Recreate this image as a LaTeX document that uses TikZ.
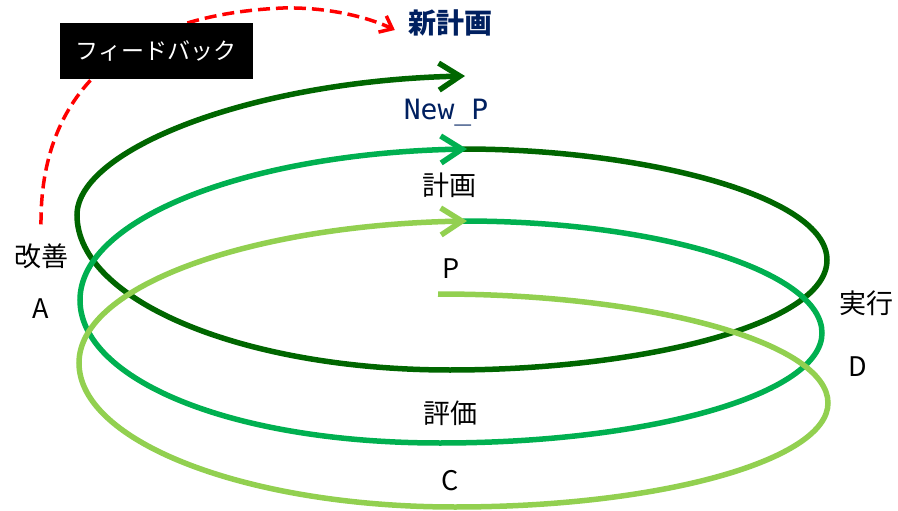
\documentclass[tikz,border=0pt]{standalone}
\usepackage{fontspec}
\setmainfont{Noto Sans CJK JP}
\newfontfamily\pmono{DejaVu Sans Mono}
\usepackage{xcolor}
\usepackage{tikz}
\usetikzlibrary{arrows.meta,calc}

\definecolor{spiraldark}{RGB}{0,102,0}
\definecolor{spiralmid}{RGB}{0,176,80}
\definecolor{spirallight}{RGB}{146,208,80}
\definecolor{plannavy}{RGB}{0,32,96}

\begin{document}
\begin{tikzpicture}[
					x = 1pt, y = -1pt,
					spiral/.style = {line width = 5.5pt, -{Straight Barb[length=21pt,width=27pt]}},
					stage/.style = {inner sep = 2pt, text height = 20pt, text depth = 3pt, font = \fontsize{27}{30}\selectfont},
					fbbox/.style = {fill = black, text = white, minimum width = 193pt, minimum height = 56pt, inner sep = 0pt, font = \fontsize{23}{26}\selectfont},
					feedback/.style = {red, line width = 3.5pt, dash pattern = on 12pt off 6pt, -{Straight Barb[length=11pt,width=18pt]}}
					]

					\useasboundingbox (0,0) rectangle (898,511);

					\node[stage] (kaizen) at (41,258) {改善};
					\node[stage] (act) at (41,310) {A};
					\node[stage] (jikko) at (866,305) {実行};
					\node[stage] (do) at (858,368) {D};
					\node[stage] (hyoka) at (450,415) {評価};
					\node[stage] (check) at (450,482) {C};
					\node[stage] (keikaku) at (449,187) {計画};
					\node[stage] (plan) at (451,270) {P};
					\node[stage, plannavy, font = \pmono\fontsize{28}{30}\selectfont] (newp) at (446,111) {New\_P};
					\node[stage, plannavy, font = \bfseries\fontsize{28}{30}\selectfont] (newplan) at (450,25) {新計画};

					% top loop first, so the lower arrows lie over the next start
					\draw[spiral, spiraldark] (463,149) .. controls (640,149) and (827,195) .. (827,260)
						.. controls (827,325) and (640,370) .. (450,370)
						.. controls (244,370) and (77,301) .. (77,215)
						.. controls (77,150) and (250,81) .. (465,76);
					\draw[spiral, spiralmid] (463,221) .. controls (661,221) and (822,272) .. (822,333)
						.. controls (822,394) and (651,443) .. (440,443)
						.. controls (230,443) and (80,379) .. (80,300)
						.. controls (80,217) and (253,153) .. (467,149);
					\draw[spiral, spirallight] (438,294) .. controls (653,294) and (828,343) .. (828,403)
						.. controls (828,460) and (661,507) .. (455,507)
						.. controls (247,507) and (79,442) .. (79,363)
						.. controls (79,285) and (253,225) .. (467,221);

					\coordinate (fbstart) at ([yshift=20pt]kaizen.north);
					\coordinate (fbend) at ([xshift=-11pt,yshift=-5pt]newplan.west);
					\draw[feedback] (fbstart) .. controls (40,95) and (120,15) .. (283,8)
						.. controls (330,7) and (370,18) .. (fbend);

					\node[fbbox] (fb) at (156,51) {フィードバック};

				\end{tikzpicture}
\end{document}
